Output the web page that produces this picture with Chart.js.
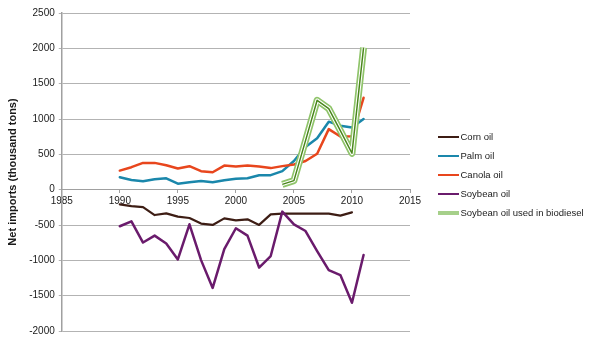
<!DOCTYPE html>
<html>
<head>
<meta charset="utf-8">
<title>US vegetable oil net imports</title>
<script src="https://cdn.jsdelivr.net/npm/chart.js@4.4.1/dist/chart.umd.min.js"></script>
<style>
  html, body { margin: 0; padding: 0; background: #ffffff; }
  canvas { display: block; }
</style>
</head>
<body>
<canvas id="chart" width="600" height="343"></canvas>
<script>
// Net imports by year, thousand tons (negative = net exports)
const years = [1990, 1991, 1992, 1993, 1994, 1995, 1996, 1997, 1998, 1999, 2000,
               2001, 2002, 2003, 2004, 2005, 2006, 2007, 2008, 2009, 2010, 2011];

const cornOil    = [-209, -232, -246, -359, -335, -382, -401, -480, -499, -406, -434,
                    -420, -499, -349, -340, -340, -340, -340, -340, -368, -321, null];
const palmOil    = [175, 137, 118, 147, 161, 85, 104, 123, 104, 133, 156,
                    161, 204, 205, 262, 405, 605, 728, 962, 904, 881, 1000];
const canolaOil  = [270, 318, 379, 379, 346, 299, 332, 261, 246, 341, 327,
                    341, 327, 305, 333, 357, 405, 509, 857, 752, 757, 1300];
const soybeanOil = [-518, -448, -748, -650, -762, -987, -490, -997, -1391, -842, -546,
                    -650, -1102, -939, -311, -491, -585, -868, -1138, -1208, -1600, -925];

// Soybean oil going into biodiesel, 2004 onward
const biodieselYears = [2004, 2005, 2006, 2007, 2008, 2009, 2010, 2011];
const biodieselOil   = [75, 128, 694, 1265, 1148, 836, 515, 2010];

const seriesNames = ['Corn oil', 'Palm oil', 'Canola oil', 'Soybean oil', 'Soybean oil used in biodiesel'];

// Axis ranges
const yearRange   = [1985, 2015];
const yearStep    = 5;
const importRange = [-2000, 2500];
const importStep  = 500;

const toPoints = (xs, ys) => xs.map((x, i) => ({ x: x, y: ys[i] }));

const lineStyle = {
  pointRadius: 0,
  pointHoverRadius: 0,
  tension: 0,
  fill: false,
  borderJoinStyle: 'round',
  borderCapStyle: 'round',
  spanGaps: false
};

// Legend drawn to the right of the plot, one short line sample per series
const sideLegend = {
  id: 'sideLegend',
  afterDraw(chart, _args, o) {
    const { ctx, chartArea } = chart;
    const items = chart.data.datasets.filter(d => !d.legendHidden);
    ctx.save();
    ctx.font = o.font;
    ctx.textBaseline = 'middle';
    ctx.textAlign = 'left';
    items.forEach((d, i) => {
      const x = chartArea.right + o.gap;
      const y = chartArea.top + o.top + i * o.rowHeight;
      ctx.beginPath();
      ctx.lineCap = 'butt';
      ctx.strokeStyle = d.legendColor || d.borderColor;
      ctx.lineWidth = d.legendLineWidth || 2;
      ctx.moveTo(x, y);
      ctx.lineTo(x + o.lineLength, y);
      ctx.stroke();
      ctx.fillStyle = o.color;
      ctx.fillText(d.label, x + o.lineLength + o.textGap, y + 0.5);
    });
    ctx.restore();
  }
};

const gridGrey = '#b3b3b3';
const axisGrey = '#a0a0a0';
const textColor = '#1a1a1a';
const tickFont = { family: "'Liberation Sans', Arial, Helvetica, sans-serif", size: 10 };

new Chart(document.getElementById('chart'), {
  type: 'line',
  data: {
    datasets: [
      Object.assign({}, lineStyle, {
        label: seriesNames[0], data: toPoints(years, cornOil),
        borderColor: '#3d1d14', borderWidth: 2.2, order: 8
      }),
      Object.assign({}, lineStyle, {
        label: seriesNames[1], data: toPoints(years, palmOil),
        borderColor: '#1a87ab', borderWidth: 2.5, order: 7
      }),
      Object.assign({}, lineStyle, {
        label: seriesNames[2], data: toPoints(years, canolaOil),
        borderColor: '#e8461d', borderWidth: 2.5, order: 6
      }),
      Object.assign({}, lineStyle, {
        label: seriesNames[3], data: toPoints(years, soybeanOil),
        borderColor: '#6a1b6c', borderWidth: 2.5, order: 5
      }),
      // Biodiesel series: a double-rule line (light outer band, white core, dark centre)
      Object.assign({}, lineStyle, {
        label: seriesNames[4], data: toPoints(biodieselYears, biodieselOil),
        borderColor: '#8fc46a', borderWidth: 7, order: 4, borderCapStyle: 'butt',
        legendColor: '#a6d08a', legendLineWidth: 4
      }),
      Object.assign({}, lineStyle, {
        label: seriesNames[4] + ' (core)', data: toPoints(biodieselYears, biodieselOil),
        borderColor: '#ffffff', borderWidth: 3.6, order: 3, borderCapStyle: 'butt', legendHidden: true
      }),
      Object.assign({}, lineStyle, {
        label: seriesNames[4] + ' (centre)', data: toPoints(biodieselYears, biodieselOil),
        borderColor: '#4a871c', borderWidth: 1.5, order: 2, borderCapStyle: 'butt', legendHidden: true
      })
    ]
  },
  options: {
    responsive: false,
    animation: false,
    events: [],
    layout: { padding: { left: 6, top: 13, right: 190, bottom: 12 } },
    plugins: {
      legend: { display: false },
      tooltip: { enabled: false },
      sideLegend: {
        font: "9.5px 'Liberation Sans', Arial, Helvetica, sans-serif",
        color: textColor,
        gap: 28, lineLength: 21, textGap: 1.5, top: 124, rowHeight: 19
      }
    },
    scales: {
      x: {
        type: 'linear',
        min: yearRange[0], max: yearRange[1],
        position: { y: 0 },
        ticks: {
          stepSize: yearStep, font: tickFont, color: textColor, padding: 3,
          maxRotation: 0, autoSkip: false,
          callback: v => String(v)
        },
        grid: { display: true, drawOnChartArea: false, drawTicks: true, tickLength: 3, color: axisGrey },
        border: { display: true, color: axisGrey, width: 1 }
      },
      y: {
        min: importRange[0], max: importRange[1],
        ticks: {
          stepSize: importStep, font: tickFont, color: textColor, padding: 4,
          callback: v => String(v)
        },
        grid: { color: gridGrey, lineWidth: 1, tickLength: 3 },
        border: { display: true, color: axisGrey, width: 1.5 },
        title: {
          display: true, text: 'Net imports (thousand tons)', color: textColor,
          font: { family: "'Liberation Sans', Arial, Helvetica, sans-serif", size: 11, weight: 'bold' },
          padding: { top: 0, bottom: 6 }
        }
      }
    }
  },
  plugins: [sideLegend]
});
</script>
</body>
</html>
